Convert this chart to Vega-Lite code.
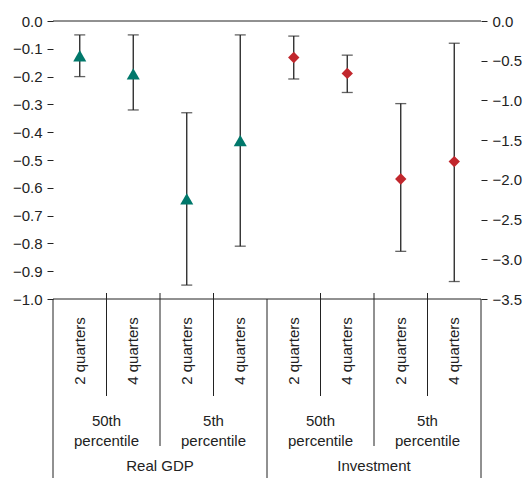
{
  "$schema": "https://vega.github.io/schema/vega-lite/v6.json",
  "background": "white",
  "padding": {"left": 12, "top": 14, "right": 3, "bottom": 0},
  "spacing": 0,
  "bounds": "flush",
  "config": {
    "view": {"stroke": null},
    "font": "Liberation Sans",
    "text": {"font": "Liberation Sans"},
    "axis": {"labelFont": "Liberation Sans", "labelFontSize": 15, "labelColor": "#222", "tickColor": "#222", "domain": false, "grid": false, "tickSize": 6, "labelPadding": 5, "labelBound": false, "labelOverlap": false}
  },
  "vconcat": [
    {
      "width": 428,
      "height": 278,
      "resolve": {"scale": {"y": "independent"}},
      "layer": [
        {
          "data": {"values": [
            {"x": 0.5, "mid": -0.125, "lo": -0.2, "hi": -0.05},
            {"x": 1.5, "mid": -0.19, "lo": -0.32, "hi": -0.05},
            {"x": 2.5, "mid": -0.64, "lo": -0.95, "hi": -0.33},
            {"x": 3.5, "mid": -0.43, "lo": -0.81, "hi": -0.05}
          ]},
          "encoding": {
            "x": {"field": "x", "type": "quantitative", "scale": {"domain": [0, 8], "nice": false}, "axis": null}
          },
          "layer": [
            {
              "mark": {"type": "rule", "color": "#222", "strokeWidth": 1.3},
              "encoding": {"y": {"field": "lo", "type": "quantitative", "scale": {"domain": [-1, 0], "nice": false}, "axis": {"title": null, "values": [0, -0.1, -0.2, -0.3, -0.4, -0.5, -0.6, -0.7, -0.8, -0.9, -1], "format": ".1f"}}, "y2": {"field": "hi"}}
            },
            {
              "data": {"values": [{"x0": 0, "x1": 8, "y": 0}, {"x0": 0, "x1": 8, "y": -1}]},
              "mark": {"type": "rule", "color": "#222", "strokeWidth": 1},
              "encoding": {"x": {"field": "x0", "type": "quantitative"}, "x2": {"field": "x1"}, "y": {"field": "y", "type": "quantitative", "axis": {"title": null, "values": [0, -0.1, -0.2, -0.3, -0.4, -0.5, -0.6, -0.7, -0.8, -0.9, -1], "format": ".1f"}}}
            },
            {
              "mark": {"type": "tick", "orient": "horizontal", "color": "#222", "size": 11, "thickness": 1.3},
              "encoding": {"y": {"field": "lo", "type": "quantitative", "axis": {"title": null, "values": [0, -0.1, -0.2, -0.3, -0.4, -0.5, -0.6, -0.7, -0.8, -0.9, -1], "format": ".1f"}}}
            },
            {
              "mark": {"type": "tick", "orient": "horizontal", "color": "#222", "size": 11, "thickness": 1.3},
              "encoding": {"y": {"field": "hi", "type": "quantitative", "axis": {"title": null, "values": [0, -0.1, -0.2, -0.3, -0.4, -0.5, -0.6, -0.7, -0.8, -0.9, -1], "format": ".1f"}}}
            },
            {
              "mark": {"type": "point", "shape": "triangle-up", "filled": true, "opacity": 1, "color": "#00786b", "size": 170},
              "encoding": {"y": {"field": "mid", "type": "quantitative", "axis": {"title": null, "values": [0, -0.1, -0.2, -0.3, -0.4, -0.5, -0.6, -0.7, -0.8, -0.9, -1], "format": ".1f"}}}
            }
          ]
        },
        {
          "data": {"values": [
            {"x": 4.5, "mid": -0.46, "lo": -0.73, "hi": -0.19},
            {"x": 5.5, "mid": -0.66, "lo": -0.9, "hi": -0.43},
            {"x": 6.5, "mid": -1.99, "lo": -2.9, "hi": -1.04},
            {"x": 7.5, "mid": -1.77, "lo": -3.28, "hi": -0.28}
          ]},
          "encoding": {
            "x": {"field": "x", "type": "quantitative", "scale": {"domain": [0, 8], "nice": false}, "axis": null}
          },
          "layer": [
            {
              "mark": {"type": "rule", "color": "#222", "strokeWidth": 1.3},
              "encoding": {"y": {"field": "lo", "type": "quantitative", "scale": {"domain": [-3.5, 0], "nice": false}, "axis": {"title": null, "orient": "right", "values": [0, -0.5, -1, -1.5, -2, -2.5, -3, -3.5], "format": ".1f"}}, "y2": {"field": "hi"}}
            },
            {
              "mark": {"type": "tick", "orient": "horizontal", "color": "#222", "size": 11, "thickness": 1.3},
              "encoding": {"y": {"field": "lo", "type": "quantitative", "axis": {"title": null, "orient": "right", "values": [0, -0.5, -1, -1.5, -2, -2.5, -3, -3.5], "format": ".1f"}}}
            },
            {
              "mark": {"type": "tick", "orient": "horizontal", "color": "#222", "size": 11, "thickness": 1.3},
              "encoding": {"y": {"field": "hi", "type": "quantitative", "axis": {"title": null, "orient": "right", "values": [0, -0.5, -1, -1.5, -2, -2.5, -3, -3.5], "format": ".1f"}}}
            },
            {
              "mark": {"type": "point", "shape": "diamond", "filled": true, "opacity": 1, "color": "#c1272d", "size": 130},
              "encoding": {"y": {"field": "mid", "type": "quantitative", "axis": {"title": null, "orient": "right", "values": [0, -0.5, -1, -1.5, -2, -2.5, -3, -3.5], "format": ".1f"}}}
            }
          ]
        }
      ]
    },
    {
      "width": 428,
      "height": 180,
      "encoding": {
        "x": {"field": "x", "type": "quantitative", "scale": {"domain": [0, 8], "nice": false}, "axis": null}
      },
      "layer": [
        {
          "data": {"values": [
            {"x": 0, "y1": 0, "y2": 180}, {"x": 4, "y1": 0, "y2": 180}, {"x": 8, "y1": 0, "y2": 180},
            {"x": 2, "y1": -6, "y2": 147}, {"x": 6, "y1": -6, "y2": 147},
            {"x": 1, "y1": -6, "y2": 97}, {"x": 3, "y1": -6, "y2": 97}, {"x": 5, "y1": -6, "y2": 97}, {"x": 7, "y1": -6, "y2": 97}
          ]},
          "mark": {"type": "rule", "color": "#222", "strokeWidth": 1},
          "encoding": {
            "y": {"field": "y1", "type": "quantitative", "scale": {"domain": [0, 180], "reverse": true, "nice": false}, "axis": null},
            "y2": {"field": "y2"}
          }
        },
        {
          "data": {"values": [
            {"x": 0.5, "y": 52, "t": "2 quarters"}, {"x": 1.5, "y": 52, "t": "4 quarters"}, {"x": 2.5, "y": 52, "t": "2 quarters"}, {"x": 3.5, "y": 52, "t": "4 quarters"},
            {"x": 4.5, "y": 52, "t": "2 quarters"}, {"x": 5.5, "y": 52, "t": "4 quarters"}, {"x": 6.5, "y": 52, "t": "2 quarters"}, {"x": 7.5, "y": 52, "t": "4 quarters"},
            {"x": 1, "y": 122, "t": "50th"}, {"x": 1, "y": 142, "t": "percentile"},
            {"x": 3, "y": 122, "t": "5th"}, {"x": 3, "y": 142, "t": "percentile"},
            {"x": 5, "y": 122, "t": "50th"}, {"x": 5, "y": 142, "t": "percentile"},
            {"x": 7, "y": 122, "t": "5th"}, {"x": 7, "y": 142, "t": "percentile"},
            {"x": 2, "y": 167, "t": "Real GDP"}, {"x": 6, "y": 167, "t": "Investment"}
          ]},
          "mark": {"type": "text", "fontSize": 15, "color": "#222", "align": "center", "baseline": "middle"},
          "encoding": {
            "y": {"field": "y", "type": "quantitative"},
            "text": {"field": "t"},
            "angle": {"condition": {"test": "datum.y == 52", "value": 270}, "value": 0}
          }
        }
      ]
    }
  ]
}
